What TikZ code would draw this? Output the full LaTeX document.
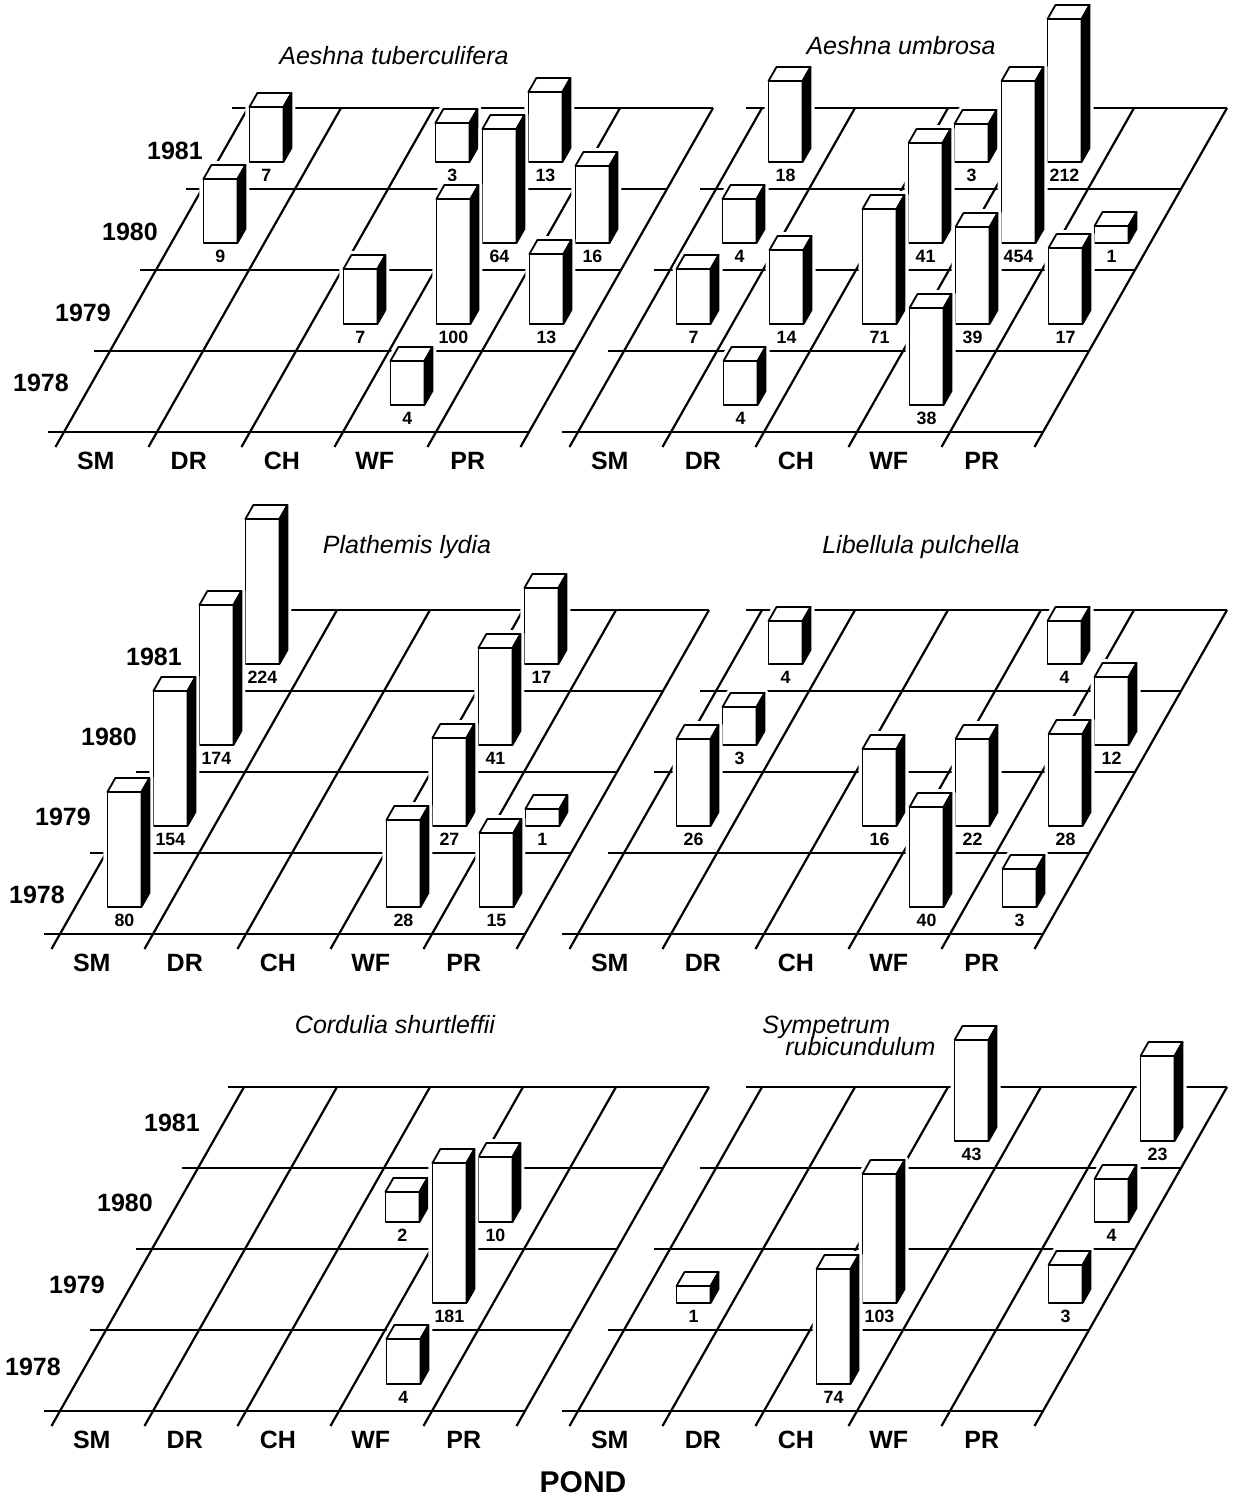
\documentclass[tikz,border=0pt]{standalone}
\usepackage{fontspec}
\setmainfont{Liberation Sans}
\usepackage{tikz}
\usetikzlibrary{positioning}

% grid of one pond panel, in panel units
\newcommand{\pondgrid}{%
  \foreach \r in {0,...,4} {\draw[gridline] (-0.17,\r) -- (5,\r);}
  \foreach \c in {0,...,5} {\draw[gridline] (\c,-0.185) -- (\c,4);}
  \foreach \c/\s in {0/SM,1/DR,2/CH,3/WF,4/PR} {\node[pondlab] (\panel-\s) at (\c+0.52,-0.36) {\s};}
}
% one bar: column, row, height (px), count
\newcommand{\pondbar}[4]{%
  \pgfmathsetmacro{\barul}{#1+\baroff}%
  \pgfmathsetmacro{\barur}{\barul+0.366}%
  \pgfmathsetmacro{\barum}{\barul+0.183}%
  \pgfmathsetmacro{\barvf}{#2+0.333}%
  \pgfmathsetmacro{\barvb}{\barvf+0.173}%
  \filldraw[barhalo] (\barul,\barvf,0) -- (\barur,\barvf,0) -- (\barur,\barvb,0) -- (\barur,\barvb,#3) -- (\barul,\barvb,#3) -- (\barul,\barvf,#3) -- cycle;
  \filldraw[barface] (\barul,\barvf,0) -- (\barur,\barvf,0) -- (\barur,\barvf,#3) -- (\barul,\barvf,#3) -- cycle;
  \filldraw[barface] (\barul,\barvf,#3) -- (\barur,\barvf,#3) -- (\barur,\barvb,#3) -- (\barul,\barvb,#3) -- cycle;
  \filldraw[barside] (\barur,\barvf,0) -- (\barur,\barvb,0) -- (\barur,\barvb,#3) -- (\barur,\barvf,#3) -- cycle;
  \node[barnum] (\panel-#1-#2) at (\barum,\barvf,-13) {#4};
}

\begin{document}
\begin{tikzpicture}[x=0.5pt,y=0.5pt,yscale=-1,xscale=1,
  gridline/.style={line width=1.1pt},
  barhalo/.style={draw=white,fill=white,line width=4pt,line join=round},
  barface/.style={draw=black,fill=white,line width=0.9pt,line join=round},
  barside/.style={draw=black,fill=black,line width=0.9pt,line join=round},
  barnum/.style={font=\bfseries\fontsize{8.9}{10}\selectfont,inner sep=0pt},
  pondlab/.style={font=\bfseries\fontsize{12.5}{14}\selectfont,inner sep=0pt},
  yearlab/.style={font=\bfseries\fontsize{12.5}{14}\selectfont,inner sep=0pt},
  species/.style={font=\itshape\fontsize{12.5}{14}\selectfont,inner sep=0pt,anchor=base}]
%uncomment if require: \path (0,1508); %set diagram left start at 0, and has height of 1508

%Shape: Background
\fill[white] (0,0) rectangle (1232,1508);
\useasboundingbox (0,0) rectangle (1232,1508);

%Shape: Panel Aeshna tuberculifera
\begin{scope}[shift={(64,432)},x={(46.5pt,0pt)},y={(23pt,-40.5pt)},z={(0pt,-0.5pt)}]
\def\panel{tl}\def\baroff{0.345}
\pondgrid
\pondbar{0}{3}{55}{7}
\pondbar{2}{3}{39}{3}
\pondbar{3}{3}{70}{13}
\pondbar{0}{2}{64}{9}
\pondbar{3}{2}{114}{64}
\pondbar{4}{2}{77}{16}
\pondbar{2}{1}{55}{7}
\pondbar{3}{1}{125}{100}
\pondbar{4}{1}{70}{13}
\pondbar{3}{0}{44}{4}
\end{scope}

%Shape: Panel Aeshna umbrosa
\begin{scope}[shift={(578,432)},x={(46.5pt,0pt)},y={(23pt,-40.5pt)},z={(0pt,-0.5pt)}]
\def\panel{tr}\def\baroff{0.40}
\pondgrid
\pondbar{0}{3}{81}{18}
\pondbar{2}{3}{38}{3}
\pondbar{3}{3}{143}{212}
\pondbar{0}{2}{44}{4}
\pondbar{2}{2}{100}{41}
\pondbar{3}{2}{162}{454}
\pondbar{4}{2}{17}{1}
\pondbar{0}{1}{55}{7}
\pondbar{1}{1}{74}{14}
\pondbar{2}{1}{115}{71}
\pondbar{3}{1}{97}{39}
\pondbar{4}{1}{76}{17}
\pondbar{1}{0}{44}{4}
\pondbar{3}{0}{97}{38}
\end{scope}

%Shape: Panel Plathemis lydia
\begin{scope}[shift={(60,934)},x={(46.5pt,0pt)},y={(23pt,-40.5pt)},z={(0pt,-0.5pt)}]
\def\panel{ml}\def\baroff{0.345}
\pondgrid
\pondbar{0}{3}{145}{224}
\pondbar{3}{3}{76}{17}
\pondbar{0}{2}{140}{174}
\pondbar{3}{2}{97}{41}
\pondbar{0}{1}{135}{154}
\pondbar{3}{1}{88}{27}
\pondbar{4}{1}{17}{1}
\pondbar{0}{0}{115}{80}
\pondbar{3}{0}{87}{28}
\pondbar{4}{0}{74}{15}
\end{scope}

%Shape: Panel Libellula pulchella
\begin{scope}[shift={(578,934)},x={(46.5pt,0pt)},y={(23pt,-40.5pt)},z={(0pt,-0.5pt)}]
\def\panel{mr}\def\baroff{0.40}
\pondgrid
\pondbar{0}{3}{43}{4}
\pondbar{3}{3}{43}{4}
\pondbar{0}{2}{38}{3}
\pondbar{4}{2}{68}{12}
\pondbar{0}{1}{87}{26}
\pondbar{2}{1}{77}{16}
\pondbar{3}{1}{87}{22}
\pondbar{4}{1}{92}{28}
\pondbar{3}{0}{100}{40}
\pondbar{4}{0}{38}{3}
\end{scope}

%Shape: Panel Cordulia shurtleffii
\begin{scope}[shift={(60,1411)},x={(46.5pt,0pt)},y={(23pt,-40.5pt)},z={(0pt,-0.5pt)}]
\def\panel{bl}\def\baroff{0.345}
\pondgrid
\pondbar{2}{2}{30}{2}
\pondbar{3}{2}{65}{10}
\pondbar{3}{1}{140}{181}
\pondbar{3}{0}{45}{4}
\end{scope}

%Shape: Panel Sympetrum rubicundulum
\begin{scope}[shift={(578,1411)},x={(46.5pt,0pt)},y={(23pt,-40.5pt)},z={(0pt,-0.5pt)}]
\def\panel{br}\def\baroff{0.40}
\pondgrid
\pondbar{2}{3}{101}{43}
\pondbar{4}{3}{85}{23}
\pondbar{4}{2}{43}{4}
\pondbar{0}{1}{17}{1}
\pondbar{2}{1}{129}{103}
\pondbar{4}{1}{38}{3}
\pondbar{2}{0}{115}{74}
\end{scope}

% Text Node
\node[species] (title-tl) at (394,65) {Aeshna tuberculifera};
% Text Node
\node[species] (title-tr) at (901,55) {Aeshna umbrosa};
% Text Node
\node[species] (title-ml) at (407,553) {Plathemis lydia};
% Text Node
\node[species] (title-mr) at (921,553) {Libellula pulchella};
% Text Node
\node[species] (title-bl) at (395,1033) {Cordulia shurtleffii};
% Text Node
\node[species,anchor=base west] (title-br1) at (762,1033) {Sympetrum};
\node[species,anchor=base west] (title-br2) at (785,1055) {rubicundulum};

% Text Node
\node[yearlab] (tl-1981) at (175,151) {1981};
\node[yearlab] (tl-1980) at (130,232) {1980};
\node[yearlab] (tl-1979) at (83,313) {1979};
\node[yearlab] (tl-1978) at (41,383) {1978};
% Text Node
\node[yearlab] (ml-1981) at (154,657) {1981};
\node[yearlab] (ml-1980) at (109,737) {1980};
\node[yearlab] (ml-1979) at (63,817) {1979};
\node[yearlab] (ml-1978) at (37,895) {1978};
% Text Node
\node[yearlab] (bl-1981) at (172,1123) {1981};
\node[yearlab] (bl-1980) at (125,1203) {1980};
\node[yearlab] (bl-1979) at (77,1285) {1979};
\node[yearlab] (bl-1978) at (33,1367) {1978};

% Text Node
\node[font=\bfseries\fontsize{15}{18}\selectfont,inner sep=0pt] (pond) at (583,1482) {POND};

\end{tikzpicture}
\end{document}
